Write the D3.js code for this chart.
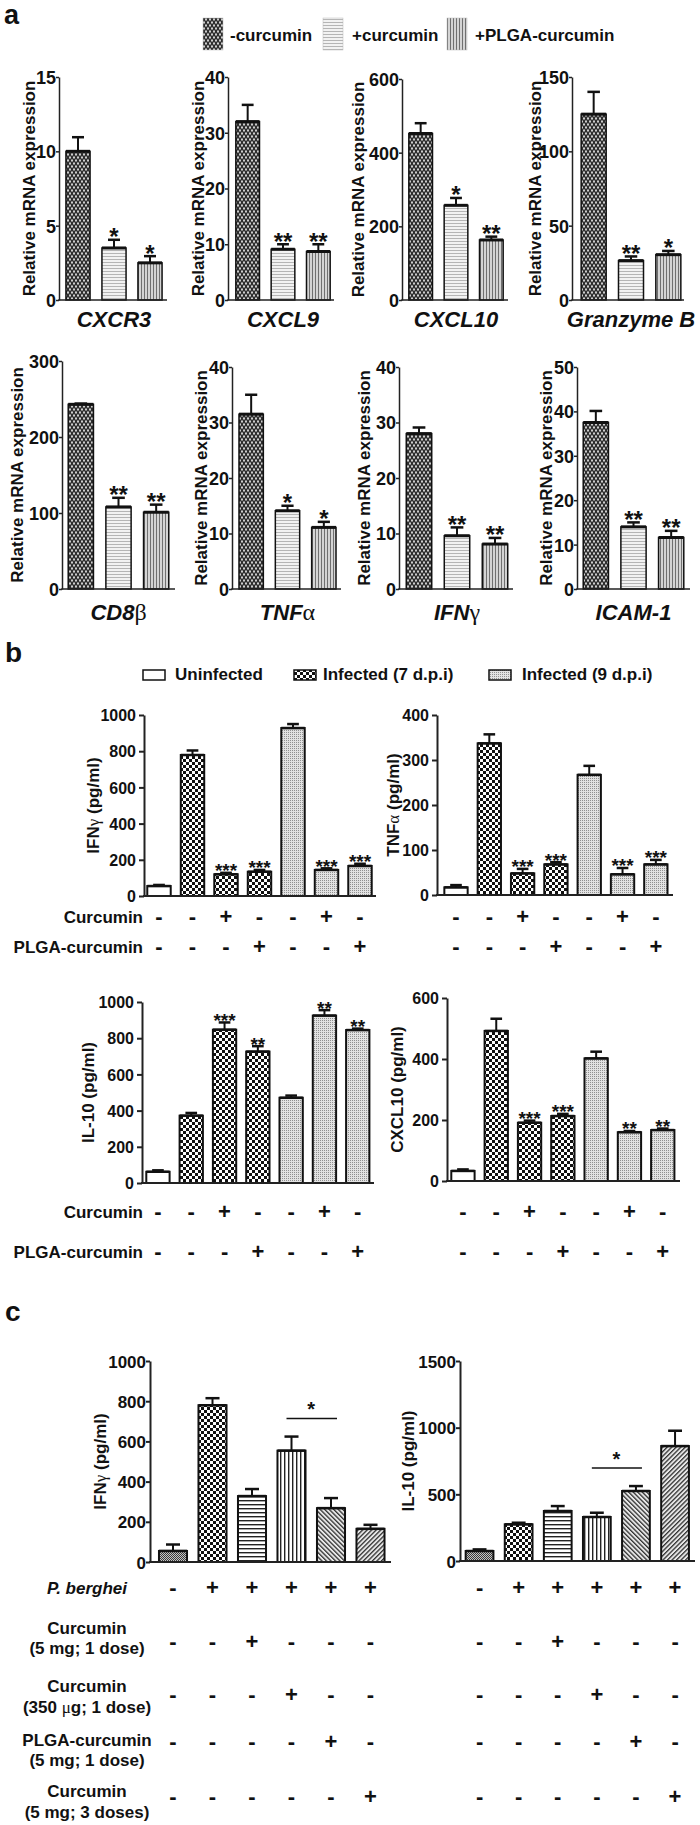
<!DOCTYPE html>
<html><head><meta charset="utf-8">
<script src="https://cdn.jsdelivr.net/npm/d3@7"></script>
<style>
body{margin:0;background:#fff}
svg{display:block}
text{font-family:"Liberation Sans",Arial,sans-serif;font-weight:bold;fill:#111}
</style>
</head><body>
<svg id="fig" width="700" height="1825"></svg>
<script>
// ===================== DATA =====================
// Panel a
const aGenes = ["CXCR3","CXCL9","CXCL10","Granzyme B","CD8β","TNFα","IFNγ","ICAM-1"];
const aGroups = ["-curcumin","+curcumin","+PLGA-curcumin"];
const aMeans = [[10,3.5,2.5],[32,9.1,8.7],[452,257,163],[125,26.5,30.5],[243,108,101],[31.5,14.1,11.1],[28,9.6,8.1],[37.5,14,11.6]];
const aErrors = [[0.95,0.55,0.45],[3,0.9,1.3],[28,20,9],[15,2.8,2.5],[1,12,10],[3.5,0.9,1.0],[1.1,1.5,1.1],[2.6,1,1.5]];
const aStars = [["","*","*"],["","**","**"],["","*","**"],["","**","*"],["","**","**"],["","*","*"],["","**","**"],["","**","**"]];
const aYMax = [15,40,600,150,300,40,40,50];
const aTickStep = [5,10,200,50,100,10,10,10];
const aYTitle = "Relative mRNA expression";

// Panel b
const bLegend = ["Uninfected","Infected (7 d.p.i)","Infected (9 d.p.i)"];
const bGroupOfBar = [0,1,1,1,2,2,2];
const bRowLabels = ["Curcumin","PLGA-curcumin"];
const bSigns = [["-","-","+","-","-","+","-"],["-","-","-","+","-","-","+"]];
const bTitles = ["IFNγ (pg/ml)","TNFα (pg/ml)","IL-10 (pg/ml)","CXCL10 (pg/ml)"];
const bMeans = [[55,779,120,134,928,144,166],[17,337,48,68,267,46,68],[62,372,847,726,471,925,845],[33,492,191,213,402,160,167]];
const bErrors = [[6,25,8,10,22,9,12],[5,20,10,5,20,14,10],[8,15,40,30,12,30,8],[5,40,7,7,22,4,5]];
const bStars = [["","","***","***","","***","***"],["","","***","***","","***","***"],["","","***","**","","**","**"],["","","***","***","","**","**"]];
const bYMax = [1000,400,1000,600];
const bTickStep = [200,100,200,200];

// Panel c
const cRowLabels = [["P. berghei"],["Curcumin","(5 mg; 1 dose)"],["Curcumin","(350 μg; 1 dose)"],["PLGA-curcumin","(5 mg; 1 dose)"],["Curcumin","(5 mg; 3 doses)"]];
const cSigns = [["-","+","+","+","+","+"],["-","-","+","-","-","-"],["-","-","-","+","-","-"],["-","-","-","-","+","-"],["-","-","-","-","-","+"]];
const cTitles = ["IFNγ (pg/ml)","IL-10 (pg/ml)"];
const cMeans = [[55,780,328,554,268,165],[75,275,375,330,525,862]];
const cErrors = [[32,35,35,70,50,20],[12,12,37,32,37,115]];
const cYMax = [1000,1500];
const cTickStep = [200,500];
const cBracket = [[3,4,"*"],[3,4,"*"]];

// ===================== LAYOUT =====================
const aLayout = [
 {ax:59, top:77, bottom:300, len:108, off:1, tx:29},
 {ax:228,top:77, bottom:300, len:106, off:2, tx:198},
 {ax:402,top:79, bottom:300, len:106, off:1, tx:358},
 {ax:572,top:77, bottom:300, len:112, off:3, tx:535},
 {ax:62, top:361,bottom:589, len:113, off:0, tx:17},
 {ax:232,top:367,bottom:589, len:109, off:1, tx:201},
 {ax:399,top:367,bottom:589, len:114, off:1, tx:364},
 {ax:577,top:367,bottom:589, len:113, off:0, tx:546}
];
const aGeneY = [327,327,327,327,620,620,620,620];
const bLayout = [
 {ax:144,axEnd:376,r0:142.25,r1:376.75,top:715, bottom:896, tx:93},
 {ax:437,axEnd:673,r0:439.35,r1:672.5, top:715, bottom:895, tx:393},
 {ax:142,axEnd:374,r0:141.3, r1:374.4, top:1002,bottom:1183,tx:88},
 {ax:447,axEnd:680,r0:446.3, r1:679.4, top:998, bottom:1181,tx:397}
];
const bSignY = [[917,947],[917,947],[1212,1252],[1212,1252]];
const cLayout = [
 {ax:150,axEnd:391,r0:153.25,r1:390.25,top:1361,bottom:1562,tx:100},
 {ax:460,axEnd:695,r0:460,   r1:694.6, top:1361,bottom:1561,tx:408}
];
const cSignY = [1588,1642,1695,1742,1797];
const cLabelY = [[1588],[1628,1648],[1686,1707],[1740,1760],[1791,1812]];

// ===================== SETUP =====================
const svg = d3.select("#fig");
svg.append("rect").attr("width",700).attr("height",1825).attr("fill","#fff");
const defs = svg.append("defs");
function pat(id,w,h,draw,transform){
  const p = defs.append("pattern").attr("id",id).attr("patternUnits","userSpaceOnUse").attr("width",w).attr("height",h);
  if(transform) p.attr("patternTransform",transform);
  draw(p);
}
// panel a patterns
pat("pA0",4,6,p=>{
  p.append("rect").attr("width",4).attr("height",6).attr("fill","#2e2e2e");
  p.append("ellipse").attr("cx",2).attr("cy",1.5).attr("rx",1).attr("ry",1.3).attr("fill","#d8d8d8");
  p.append("ellipse").attr("cx",0).attr("cy",4.5).attr("rx",1).attr("ry",1.3).attr("fill","#d8d8d8");
  p.append("ellipse").attr("cx",4).attr("cy",4.5).attr("rx",1).attr("ry",1.3).attr("fill","#d8d8d8");
});
pat("pA1",4,3,p=>{
  p.append("rect").attr("width",4).attr("height",3).attr("fill","#f2f2f2");
  p.append("rect").attr("y",1).attr("width",4).attr("height",1).attr("fill","#b5b5b5");
});
pat("pA2",3,4,p=>{
  p.append("rect").attr("width",3).attr("height",4).attr("fill","#d4d4d4");
  p.append("rect").attr("width",1).attr("height",4).attr("fill","#707070");
});
// panel b / c patterns
pat("pChk",6,6,p=>{
  p.append("rect").attr("width",6).attr("height",6).attr("fill","#fff");
  p.append("rect").attr("width",3).attr("height",3).attr("fill","#111");
  p.append("rect").attr("x",3).attr("y",3).attr("width",3).attr("height",3).attr("fill","#111");
});
pat("pDot",2,2,p=>{
  p.append("rect").attr("width",2).attr("height",2).attr("fill","#e2e2e2");
  p.append("rect").attr("width",1).attr("height",1).attr("fill","#909090");
});
pat("pC0",2,2,p=>{
  p.append("rect").attr("width",2).attr("height",2).attr("fill","#c4c4c4");
  p.append("rect").attr("width",1).attr("height",1).attr("fill","#3a3a3a");
  p.append("rect").attr("x",1).attr("y",1).attr("width",1).attr("height",1).attr("fill","#3a3a3a");
});
pat("pHor",4,4,p=>{
  p.append("rect").attr("width",4).attr("height",4).attr("fill","#fff");
  p.append("rect").attr("width",4).attr("height",1.4).attr("fill","#222");
});
pat("pVer",4,4,p=>{
  p.append("rect").attr("width",4).attr("height",4).attr("fill","#fff");
  p.append("rect").attr("width",1.4).attr("height",4).attr("fill","#222");
});
pat("pDiag1",3.2,3.2,p=>{
  p.append("rect").attr("width",3.2).attr("height",3.2).attr("fill","#e8e8e8");
  p.append("rect").attr("width",1.3).attr("height",3.2).attr("fill","#333");
},"rotate(-45)");
pat("pDiag2",3.2,3.2,p=>{
  p.append("rect").attr("width",3.2).attr("height",3.2).attr("fill","#e8e8e8");
  p.append("rect").attr("width",1.3).attr("height",3.2).attr("fill","#333");
},"rotate(45)");

const aFills = ["url(#pA0)","url(#pA1)","url(#pA2)"];
const bFills = ["#fff","url(#pChk)","url(#pDot)"];
const cFills = ["url(#pC0)","url(#pChk)","url(#pHor)","url(#pVer)","url(#pDiag1)","url(#pDiag2)"];

// text helper: greek letters drawn in a normal-weight serif face
function rich(sel, str, opts={}){
  const parts = str.match(/[α-ωΑ-Ωμ]+|[^α-ωΑ-Ωμ]+/g) || [];
  parts.forEach(s=>{
    const t = sel.append("tspan").text(s);
    if(/[α-ωΑ-Ωμ]/.test(s)){
      t.attr("font-family","Liberation Serif, serif").style("font-family","Liberation Serif, serif")
       .attr("font-weight","normal").style("font-weight","normal").style("font-style","normal");
      if(opts.greekScale) t.attr("font-size", opts.greekScale);
    }
  });
  return sel;
}

function drawChart(cfg){
  const n = cfg.means.length;
  const x = d3.scaleBand().domain(d3.range(n)).range([cfg.r0,cfg.r1]).paddingInner(cfg.pin).paddingOuter(cfg.pin/2);
  const y = d3.scaleLinear().domain([0,cfg.yMax]).range([cfg.bottom,cfg.top]);
  const g = svg.append("g");
  const bw = x.bandwidth();
  // bars
  g.selectAll("rect.bar").data(cfg.means).join("rect").attr("class","bar")
    .attr("x",(d,i)=>x(i)).attr("y",d=>y(d)).attr("width",bw).attr("height",d=>y(0)-y(d))
    .attr("fill",(d,i)=>cfg.fills[i]).attr("stroke","#111").attr("stroke-width",cfg.barW);
  // thick mean line
  g.selectAll("line.mean").data(cfg.means).join("line").attr("class","mean")
    .attr("x1",(d,i)=>x(i)).attr("x2",(d,i)=>x(i)+bw).attr("y1",d=>y(d)).attr("y2",d=>y(d))
    .attr("stroke","#111").attr("stroke-width",cfg.meanW);
  // error bars (upper only)
  const eb = g.selectAll("g.err").data(cfg.means.map((m,i)=>({m,e:cfg.errs[i],i}))).join("g").attr("class","err");
  eb.append("line").attr("x1",d=>x(d.i)+bw/2).attr("x2",d=>x(d.i)+bw/2).attr("y1",d=>y(d.m)).attr("y2",d=>y(d.m+d.e))
    .attr("stroke","#111").attr("stroke-width",cfg.errW);
  eb.append("line").attr("x1",d=>x(d.i)+bw/2-bw*cfg.cap/2).attr("x2",d=>x(d.i)+bw/2+bw*cfg.cap/2)
    .attr("y1",d=>y(d.m+d.e)).attr("y2",d=>y(d.m+d.e)).attr("stroke","#111").attr("stroke-width",cfg.errW+0.5);
  // stars
  if(cfg.stars){
    g.selectAll("text.star").data(cfg.stars).join("text").attr("class","star")
      .attr("x",(d,i)=>x(i)+bw/2).attr("y",(d,i)=>y(cfg.means[i]+cfg.errs[i]) - cfg.starGap + 0.39*cfg.starFs)
      .attr("text-anchor","middle").attr("font-size",cfg.starFs).text(d=>d);
  }
  // y axis
  const ticks = d3.range(0,cfg.yMax+1e-9,cfg.tickStep);
  const axg = g.append("g").attr("transform",`translate(${cfg.ax},0)`)
    .call(d3.axisLeft(y).tickValues(ticks).tickSize(cfg.tickSize).tickSizeOuter(0).tickPadding(cfg.tickPad).tickFormat(d3.format("d")));
  axg.select(".domain").attr("stroke","#222").attr("stroke-width",cfg.axisW);
  axg.selectAll(".tick line").attr("stroke","#222").attr("stroke-width",cfg.axisW);
  axg.selectAll(".tick text").attr("font-size",cfg.tickFs).attr("fill","#111").attr("dy","0.36em");
  // x axis line
  g.append("line").attr("x1",cfg.ax-cfg.axisW/2).attr("x2",cfg.axEnd).attr("y1",y(0)).attr("y2",y(0))
    .attr("stroke","#222").attr("stroke-width",cfg.axisW);
  // y title
  const t = g.append("text").attr("transform",`translate(${cfg.tx},${(cfg.top+cfg.bottom)/2}) rotate(-90)`)
    .attr("text-anchor","middle").attr("dy","0.36em").attr("font-size",cfg.titleFs);
  rich(t, cfg.title);
  return {x,y,g,bw};
}

// ===================== PANEL LETTERS =====================
svg.append("text").attr("x",4).attr("y",24).attr("font-size",27).text("a");
svg.append("text").attr("x",5).attr("y",662).attr("font-size",28).text("b");
svg.append("text").attr("x",5).attr("y",1321).attr("font-size",28).text("c");

// ===================== PANEL A =====================
const aLegX = [[203,230],[323,352],[447,475]];
aGroups.forEach((name,i)=>{
  svg.append("rect").attr("x",aLegX[i][0]).attr("y",18).attr("width",20).attr("height",32)
    .attr("fill",aFills[i]).attr("stroke","#bbb").attr("stroke-width",0.5);
  svg.append("text").attr("x",aLegX[i][1]).attr("y",41).attr("font-size",17).text(name);
});
aGenes.forEach((gene,k)=>{
  const L = aLayout[k];
  const c = drawChart({
    ax:L.ax, axEnd:L.ax+L.len, r0:L.ax+L.off, r1:L.ax+L.off+L.len, pin:0.33,
    top:L.top, bottom:L.bottom, yMax:aYMax[k], tickStep:aTickStep[k],
    means:aMeans[k], errs:aErrors[k], stars:aStars[k], fills:aFills,
    barW:1.5, meanW:3, errW:2, cap:0.5, starFs:24, starGap:4,
    tickFs:18, tickSize:3, tickPad:0, axisW:1.5,
    title:aYTitle, tx:L.tx, titleFs:17
  });
  const t = svg.append("text").attr("x",L.ax+L.off+L.len/2).attr("y",aGeneY[k]).attr("text-anchor","middle")
    .attr("font-size",22).style("font-style","italic");
  rich(t, gene, {greekScale:24});
});

// ===================== PANEL B =====================
const bLegX = [[143,175],[294,323],[489,522]];
bLegend.forEach((name,i)=>{
  svg.append("rect").attr("x",bLegX[i][0]).attr("y",670).attr("width",22).attr("height",10)
    .attr("fill",bFills[i]).attr("stroke","#111").attr("stroke-width",1.5);
  svg.append("text").attr("x",bLegX[i][1]).attr("y",680).attr("font-size",17).text(name);
});
bTitles.forEach((title,k)=>{
  const L = bLayout[k];
  const c = drawChart({
    ax:L.ax, axEnd:L.axEnd, r0:L.r0, r1:L.r1, pin:0.3,
    top:L.top, bottom:L.bottom, yMax:bYMax[k], tickStep:bTickStep[k],
    means:bMeans[k], errs:bErrors[k], stars:bStars[k], fills:bGroupOfBar.map(g=>bFills[g]),
    barW:2, meanW:2.5, errW:2, cap:0.5, starFs:19, starGap:3,
    tickFs:16, tickSize:5, tickPad:3, axisW:2,
    title:title, tx:L.tx, titleFs:17
  });
  bSigns.forEach((row,r)=>{
    row.forEach((s,i)=>{
      svg.append("text").attr("x",c.x(i)+c.bw/2).attr("y",bSignY[k][r]+7).attr("text-anchor","middle")
        .attr("font-size",22).text(s);
    });
    if(k%2===0){
      svg.append("text").attr("x",143).attr("y",bSignY[k][r]+6).attr("text-anchor","end")
        .attr("font-size",17).text(bRowLabels[r]);
    }
  });
});

// ===================== PANEL C =====================
cTitles.forEach((title,k)=>{
  const L = cLayout[k];
  const c = drawChart({
    ax:L.ax, axEnd:L.axEnd, r0:L.r0, r1:L.r1, pin:0.29,
    top:L.top, bottom:L.bottom, yMax:cYMax[k], tickStep:cTickStep[k],
    means:cMeans[k], errs:cErrors[k], stars:null, fills:cFills,
    barW:2, meanW:2.5, errW:2, cap:0.5, starFs:20, starGap:3,
    tickFs:17, tickSize:4, tickPad:0, axisW:2,
    title:title, tx:L.tx, titleFs:17
  });
  // significance bracket
  const [b0,b1,lab] = cBracket[k];
  const yTop = d3.max([b0,b1],i=>cMeans[k][i]+cErrors[k][i]);
  const by = c.y(yTop) - 18;
  svg.append("line").attr("x1",c.x(b0)+c.bw/2-5).attr("x2",c.x(b1)+c.bw/2+6).attr("y1",by).attr("y2",by)
    .attr("stroke","#111").attr("stroke-width",1.5);
  svg.append("text").attr("x",(c.x(b0)+c.x(b1))/2+c.bw/2).attr("y",by-4+0.39*20-6).attr("text-anchor","middle")
    .attr("font-size",20).text(lab);
  cSigns.forEach((row,r)=>{
    row.forEach((s,i)=>{
      svg.append("text").attr("x",c.x(i)+c.bw/2).attr("y",cSignY[r]+7).attr("text-anchor","middle")
        .attr("font-size",22).text(s);
    });
  });
});
cRowLabels.forEach((lines,r)=>{
  lines.forEach((ln,j)=>{
    const t = svg.append("text").attr("x",87).attr("y",cLabelY[r][j]+6).attr("text-anchor","middle").attr("font-size",17);
    if(r===0) t.style("font-style","italic");
    rich(t, ln);
  });
});
</script>
</body></html>
